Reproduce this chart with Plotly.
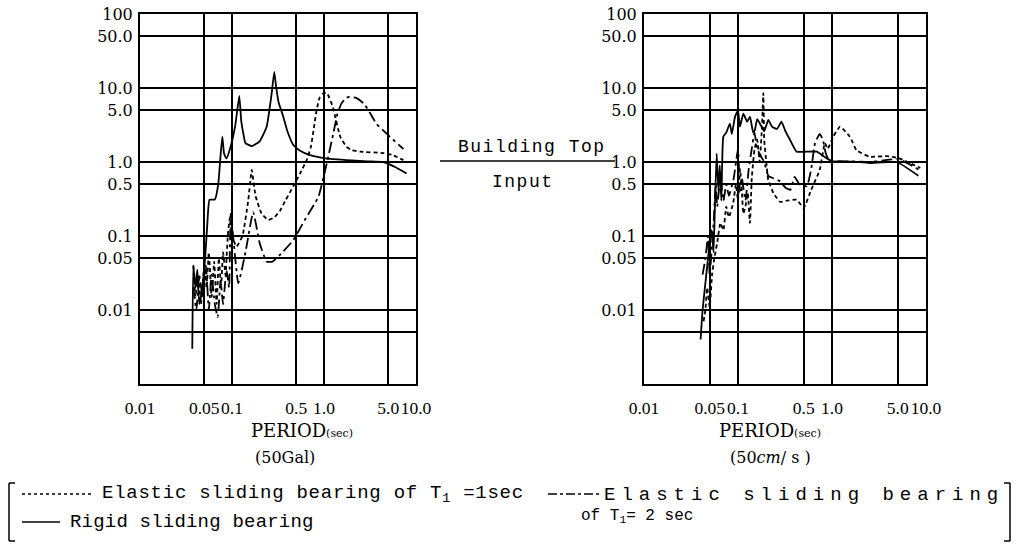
import plotly.graph_objects as go

# ---------------- data ----------------
# Left panel (50 Gal)
L_rigid_T = [0.037, 0.038, 0.040, 0.042, 0.044, 0.047, 0.051, 0.054, 0.057, 0.065, 0.071, 0.075,
             0.0785, 0.082, 0.087, 0.095, 0.108, 0.120, 0.126, 0.133, 0.140, 0.164, 0.200, 0.238,
             0.270, 0.288, 0.300, 0.320, 0.361, 0.400, 0.464, 0.550, 0.705, 1.0, 2.0, 3.0,
             4.4, 6.0, 7.9]
L_rigid_R = [0.003, 0.040, 0.020, 0.035, 0.012, 0.018, 0.050, 0.15, 0.31, 0.31, 0.51, 1.2,
             2.2, 1.3, 1.12, 1.5, 3.0, 7.8, 3.6, 2.4, 1.8, 1.64, 1.9, 3.0,
             8.5, 16.5, 11.0, 6.5, 4.1, 2.6, 1.7, 1.42, 1.24, 1.13, 1.05, 1.02,
             1.0, 0.85, 0.70]

L_el1_T = [0.038, 0.040, 0.043, 0.046, 0.050, 0.053, 0.056, 0.060, 0.064, 0.068, 0.072, 0.076,
           0.080, 0.085, 0.090, 0.095, 0.100, 0.112, 0.130, 0.150, 0.164, 0.180, 0.210, 0.248,
           0.290, 0.333, 0.380, 0.464, 0.550, 0.650, 0.720, 0.780, 0.830, 0.900, 0.980, 1.05,
           1.10, 1.25, 1.50, 1.76, 2.00, 2.46, 4.4, 5.5, 7.3]
L_el1_R = [0.040, 0.015, 0.030, 0.012, 0.040, 0.020, 0.060, 0.015, 0.045, 0.012, 0.050, 0.020,
           0.060, 0.030, 0.10, 0.18, 0.10, 0.072, 0.10, 0.30, 0.78, 0.35, 0.20, 0.165,
           0.18, 0.22, 0.30, 0.47, 0.70, 1.07, 1.6, 3.0, 5.0, 7.5, 8.5, 8.6,
           8.2, 5.5, 2.2, 1.6, 1.45, 1.38, 1.32, 1.25, 1.06]

L_el2_T = [0.038, 0.041, 0.044, 0.048, 0.052, 0.056, 0.060, 0.065, 0.070, 0.075, 0.080, 0.087,
           0.093, 0.097, 0.117, 0.140, 0.170, 0.200, 0.238, 0.275, 0.330, 0.464, 0.620, 0.870,
           1.07, 1.26, 1.40, 1.55, 1.75, 1.90, 2.20, 2.70, 3.20, 3.70, 5.20, 7.30]
L_el2_R = [0.020, 0.010, 0.030, 0.015, 0.040, 0.010, 0.030, 0.012, 0.008, 0.025, 0.012, 0.035,
           0.020, 0.20, 0.023, 0.06, 0.21, 0.08, 0.045, 0.045, 0.055, 0.088, 0.166, 0.34,
           0.95, 2.4, 4.5, 6.2, 7.4, 7.6, 7.4, 6.2, 4.5, 3.3, 2.2, 1.5]

# Right panel (50 cm/s)
R_rigid_T = [0.040, 0.042, 0.046, 0.050, 0.0525, 0.055, 0.057, 0.0593, 0.062, 0.064, 0.0665, 0.0698,
             0.075, 0.082, 0.086, 0.093, 0.100, 0.105, 0.114, 0.125, 0.134, 0.145, 0.151, 0.160,
             0.171, 0.190, 0.210, 0.230, 0.260, 0.290, 0.320, 0.357, 0.420, 0.540, 0.690, 0.880,
             1.0, 1.7, 2.5, 4.9, 8.3]
R_rigid_R = [0.004, 0.010, 0.030, 0.080, 0.12, 0.06, 0.30, 1.3, 0.40, 0.90, 0.30, 2.2,
             2.5, 3.3, 2.4, 4.1, 5.0, 3.0, 4.5, 3.5, 4.1, 2.5, 2.7, 3.8,
             3.3, 2.6, 3.7, 3.0, 2.8, 3.5, 2.6, 2.0, 1.38, 1.38, 1.38, 1.12,
             1.03, 1.01, 0.97, 1.0, 0.65]

R_el1_T = [0.043, 0.045, 0.047, 0.050, 0.053, 0.056, 0.060, 0.065, 0.070, 0.075, 0.080, 0.089,
           0.095, 0.100, 0.105, 0.110, 0.114, 0.120, 0.127, 0.134, 0.140, 0.150, 0.160, 0.170,
           0.180, 0.186, 0.190, 0.200, 0.210, 0.238, 0.280, 0.330, 0.420, 0.500, 0.600, 0.740,
           0.840, 0.900, 1.03, 1.22, 1.55, 1.82, 2.5, 3.8, 5.2, 8.7]
R_el1_R = [0.007, 0.010, 0.020, 0.011, 0.030, 0.050, 0.080, 0.15, 0.12, 0.25, 0.18, 0.28,
           0.50, 0.30, 0.80, 0.40, 0.20, 0.25, 0.38, 0.15, 0.60, 1.5, 2.0, 1.0,
           3.0, 8.5, 2.0, 1.0, 0.57, 0.38, 0.29, 0.30, 0.31, 0.24, 0.42, 0.78,
           1.8, 1.5, 2.2, 3.0, 2.2, 1.45, 1.18, 1.2, 1.12, 0.83]

R_el2_T = [0.042, 0.045, 0.048, 0.050, 0.055, 0.058, 0.060, 0.065, 0.070, 0.075, 0.080, 0.090,
           0.100, 0.105, 0.110, 0.120, 0.130, 0.140, 0.150, 0.160, 0.175, 0.190, 0.210, 0.240,
           0.280, 0.320, 0.360, 0.400, 0.450, 0.540, 0.600, 0.660, 0.740, 0.800, 0.860, 0.950,
           1.2, 1.5, 2.5, 3.5, 5.0, 6.5, 8.5]
R_el2_R = [0.030, 0.050, 0.10, 0.030, 0.15, 0.50, 0.25, 0.60, 0.30, 0.50, 0.35, 0.60,
           1.5, 0.40, 0.60, 0.30, 0.80, 1.5, 2.5, 1.5, 1.2, 1.0, 0.65, 0.60,
           0.55, 0.45, 0.42, 0.63, 0.50, 0.47, 0.80, 1.8, 2.4, 2.0, 1.3, 1.0,
           1.03, 1.02, 1.0, 1.05, 1.1, 0.95, 0.78]

x_tickvals = [0.01, 0.05, 0.1, 0.5, 1, 5, 10]
x_ticktext = ["0.01", "0.05", "0.1", "0.5", "1.0", "5.0", "10.0"]
y_tickvals = [100, 50, 10, 5, 1, 0.5, 0.1, 0.05, 0.01]
y_ticktext = ["100", "50.0", "10.0", "5.0", "1.0", "0.5", "0.1", "0.05", "0.01"]
y_extra_grid = [0.005]

W, H = 1018, 546


def px(x):
    return x / W


def py(y):
    return 1 - y / H


SOLID = "solid"
DASH1 = "4px,3px"
DASH2 = "11px,4px,3px,4px"

fig = go.Figure()

series = [
    ("x", "y", L_rigid_T, L_rigid_R, SOLID),
    ("x", "y", L_el1_T, L_el1_R, DASH1),
    ("x", "y", L_el2_T, L_el2_R, DASH2),
    ("x2", "y2", R_rigid_T, R_rigid_R, SOLID),
    ("x2", "y2", R_el1_T, R_el1_R, DASH1),
    ("x2", "y2", R_el2_T, R_el2_R, DASH2),
]
for xa, ya, T, R, dash in series:
    fig.add_trace(go.Scatter(x=T, y=R, xaxis=xa, yaxis=ya, mode="lines",
                             line=dict(color="black", width=1.8, dash=dash, shape="spline",
                                       smoothing=0.4),
                             showlegend=False, hoverinfo="skip"))

xtickfont = dict(family="Liberation Serif", size=17.5, color="black")
ytickfont = dict(family="DejaVu Serif", size=16, color="black")
xaxis_common = dict(type="log", range=[-2, 1], tickvals=x_tickvals, ticktext=x_ticktext,
                    tickangle=0, showgrid=True, gridcolor="black", gridwidth=1.6,
                    showline=True, linecolor="black", linewidth=2, mirror=True,
                    zeroline=False, ticks="", tickfont=xtickfont, ticklabelstandoff=7,
                    automargin=False)
yaxis_common = dict(type="log", range=[-3, 2], tickvals=y_tickvals, ticktext=y_ticktext,
                    showgrid=True, gridcolor="black", gridwidth=1.6,
                    minor=dict(tickvals=y_extra_grid, showgrid=True, gridcolor="black",
                               gridwidth=1.6, ticks=""),
                    showline=True, linecolor="black", linewidth=2, mirror=True,
                    zeroline=False, ticks="", tickfont=ytickfont, ticklabelstandoff=2,
                    automargin=False, domain=[py(384), py(14)])

fig.update_layout(
    width=W, height=H, margin=dict(l=0, r=0, t=0, b=0, pad=0),
    paper_bgcolor="white", plot_bgcolor="white",
    xaxis=dict(domain=[px(140), px(416)], anchor="y", **xaxis_common),
    yaxis=dict(anchor="x", **yaxis_common),
    xaxis2=dict(domain=[px(644), px(926)], anchor="y2", **xaxis_common),
    yaxis2=dict(anchor="x2", **yaxis_common),
    showlegend=False,
)

mono = "Liberation Mono"
serif = "DejaVu Serif"
ann = []


def add_text(x, y, text, size=16, family=mono, xanchor="center"):
    ann.append(dict(x=px(x), y=py(y), xref="paper", yref="paper", text=text, showarrow=False,
                    xanchor=xanchor, yanchor="middle",
                    font=dict(family=family, size=size, color="black")))


def spaced(t, sp):
    return "<span style='letter-spacing:%spx'>%s</span>" % (sp, t)


add_text(532, 147, spaced("Building Top", 1.5), size=18)
add_text(523, 182, spaced("Input", 1.5), size=18)
add_text(302, 430, "PERIOD<span style='font-size:11px'>(sec)</span>", size=18, family=serif)
add_text(285, 457, "(50Gal)", size=16, family=serif)
add_text(770, 430, "PERIOD<span style='font-size:11px'>(sec)</span>", size=18, family=serif)
add_text(770, 457, "(50<i>cm</i>/ s )", size=16, family=serif)
add_text(100, 494, spaced("Elastic sliding bearing of T<sub>1</sub> =1sec", 0.75), size=19, xanchor="left")
add_text(68, 522, spaced("Rigid sliding bearing", 0.2), size=19, xanchor="left")
add_text(602, 495, spaced("Elastic sliding bearing", 6), size=19, xanchor="left")
add_text(579, 516, "of T<sub>1</sub>= 2 sec", size=16, xanchor="left")
fig.update_layout(annotations=ann)

shapes = []


def seg(x0, y0, x1, y1, dash="solid", width=1.5):
    shapes.append(dict(type="line", xref="paper", yref="paper",
                       x0=px(x0), y0=py(y0), x1=px(x1), y1=py(y1),
                       line=dict(color="black", width=width, dash=dash)))


# fraction bar
seg(440, 161, 615, 161)
# legend samples
seg(22, 494, 92, 494, dash="dot")
seg(22, 522, 60, 522)
seg(548, 494, 600, 494, dash="dashdot")
# brackets
seg(9, 483, 9, 541)
seg(9, 483, 15, 483)
seg(9, 541, 15, 541)
seg(1010, 483, 1010, 541)
seg(1004, 483, 1010, 483)
seg(1004, 541, 1010, 541)
fig.update_layout(shapes=shapes)

fig.write_html("out.html", config={"displayModeBar": False},
               post_script="document.body.style.margin='0';document.body.style.overflow='hidden';")
